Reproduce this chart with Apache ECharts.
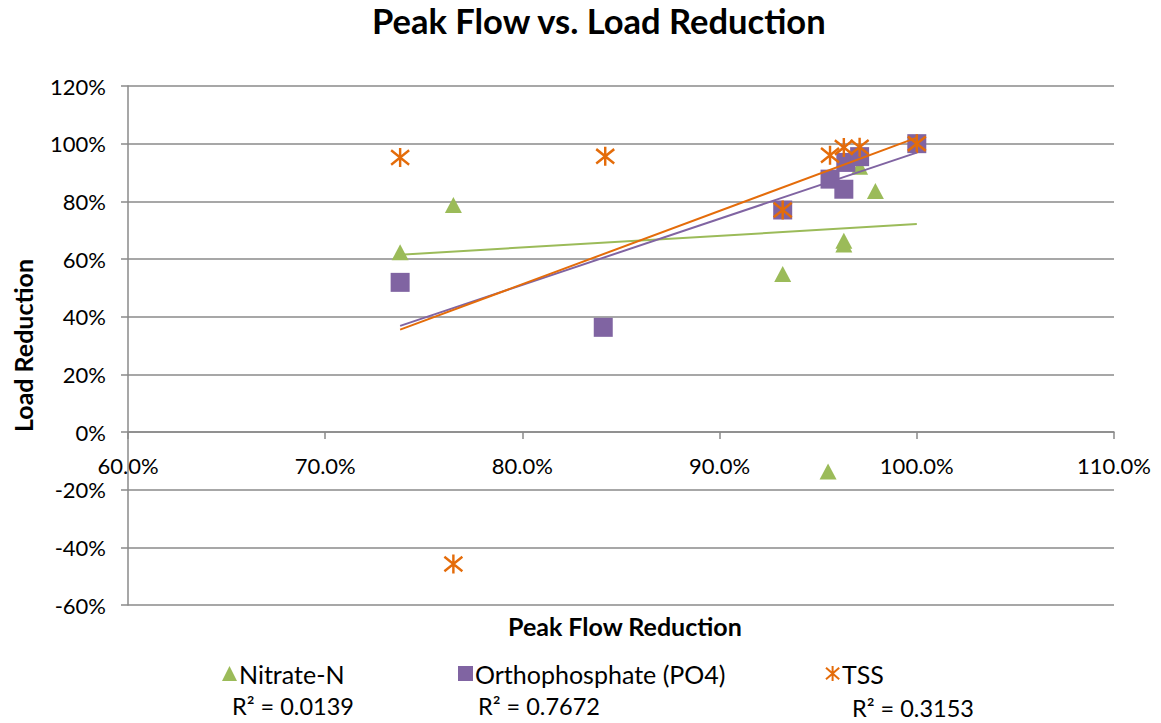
<!DOCTYPE html>
<html><head><meta charset="utf-8">
<script src="https://cdn.jsdelivr.net/npm/echarts@6/dist/echarts.min.js"></script>
<style>html,body{margin:0;padding:0;background:#fff}#c{width:1161px;height:723px}</style>
</head><body><div id="c"></div>
<script>
// Peak flow reduction (%) and load reduction (%) per series
const nitrateX = [73.8, 76.5, 93.2, 95.5, 96.3, 96.3, 97.1, 97.9, 100.0];
const nitrateY = [62.3, 78.7, 54.8, -13.7, 66.3, 65.0, 92.0, 83.6, 100.0];
const phosX = [73.8, 84.1, 93.2, 95.6, 96.3, 96.4, 97.1, 100.0];
const phosY = [51.9, 36.3, 77.0, 87.7, 84.2, 93.5, 95.5, 100.0];
const tssX = [73.8, 76.5, 84.2, 93.2, 95.6, 96.3, 97.1, 100.0];
const tssY = [95.2, -45.8, 95.6, 77.0, 96.0, 98.7, 98.8, 100.0];
// Linear trendline endpoints
const trendX = [73.8, 100.0];
const nitrateTrend = [61.5, 72.1];
const phosTrend = [36.8, 96.9];
const tssTrend = [35.5, 102.1];
const seriesNames = ['Nitrate-N', 'Orthophosphate (PO4)', 'TSS'];
const r2Labels = ['R² = 0.0139', 'R² = 0.7672', 'R² = 0.3153'];
const xTicks = [60, 110, 10];
const yTicks = [-60, 120, 20];

const FONT = 'Lato';
const GREEN = '#9BBB59', PURPLE = '#8064A2', ORANGE = '#E46C0A', GRID = '#8a8a8a';
const asterisk = 'path://M5,0L5,10M0.6,1.2L9.4,8.8M9.4,1.2L0.6,8.8';
const zip = (xs, ys) => xs.map((x, i) => [x, ys[i]]);

const GRID_TOP = 86, GRID_BOTTOM = 118, H = 723;
const plotH = H - GRID_TOP - GRID_BOTTOM;
// shift the x axis up so it crosses the y axis at 0
const zeroOffset = -plotH * (0 - yTicks[0]) / (yTicks[1] - yTicks[0]);

const chart = echarts.init(document.getElementById('c'), null, {renderer: 'svg'});
const legendBase = {
  orient: 'horizontal', top: 656, itemWidth: 15, itemHeight: 15, itemGap: 10,
  textStyle: {fontFamily: FONT, fontSize: 25, color: '#000', padding: [0, 0, 0, -3]}
};
chart.setOption({
  animation: false,
  backgroundColor: '#fff',
  textStyle: {fontFamily: FONT},
  grid: {left: 128, right: 47, top: GRID_TOP, bottom: GRID_BOTTOM, containLabel: false},
  legend: [
    Object.assign({}, legendBase, {left: 217, data: [seriesNames[0]]}),
    Object.assign({}, legendBase, {left: 453, data: [seriesNames[1]]}),
    Object.assign({}, legendBase, {left: 820, data: [seriesNames[2]]})
  ],
  graphic: [
    {type: 'text', left: 372, top: 3, style: {text: 'Peak Flow vs. Load Reduction', font: 'bold 34.5px Lato', fill: '#000'}},
    {type: 'text', left: 508, top: 613, style: {text: 'Peak Flow Reduction', font: 'bold 25px Lato', fill: '#000'}},
    {type: 'text', left: 232, top: 694, style: {text: r2Labels[0], font: '23.5px Lato', fill: '#000'}},
    {type: 'text', left: 478, top: 694, style: {text: r2Labels[1], font: '23.5px Lato', fill: '#000'}},
    {type: 'text', left: 852, top: 696, style: {text: r2Labels[2], font: '23.5px Lato', fill: '#000'}}
  ],
  xAxis: {
    type: 'value', min: xTicks[0], max: xTicks[1], interval: xTicks[2],
    position: 'bottom', offset: zeroOffset,
    axisLine: {show: true, onZero: false, lineStyle: {color: GRID, width: 1.5}},
    axisTick: {show: true, length: 7, lineStyle: {color: GRID, width: 1.5}},
    axisLabel: {formatter: v => v.toFixed(1) + '%', margin: 22, fontSize: 22, color: '#000', fontFamily: FONT},
    splitLine: {show: false}
  },
  yAxis: {
    type: 'value', min: yTicks[0], max: yTicks[1], interval: yTicks[2],
    name: 'Load Reduction', nameLocation: 'middle', nameGap: 93,
    nameTextStyle: {fontFamily: FONT, fontSize: 25, fontWeight: 'bold', color: '#000'},
    axisLine: {show: true, lineStyle: {color: GRID, width: 1.5}},
    axisTick: {show: true, length: 7, lineStyle: {color: GRID, width: 1.5}},
    axisLabel: {formatter: v => v + '%', margin: 22, fontSize: 22, color: '#000', fontFamily: FONT},
    splitLine: {show: true, lineStyle: {color: GRID, width: 1.5}}
  },
  series: [
    {name: seriesNames[0], type: 'scatter', symbol: 'triangle', symbolSize: [17, 16],
     itemStyle: {color: GREEN, opacity: 1}, data: zip(nitrateX, nitrateY), z: 2},
    {name: seriesNames[1], type: 'scatter', symbol: 'rect', symbolSize: 19,
     itemStyle: {color: PURPLE, opacity: 1}, data: zip(phosX, phosY), z: 2},
    {name: seriesNames[2], type: 'scatter', symbol: asterisk, symbolSize: [18, 19],
     itemStyle: {color: 'rgba(0,0,0,0)', borderColor: ORANGE, borderWidth: 2.5, opacity: 1}, data: zip(tssX, tssY), z: 2},
    {name: 'Nitrate trend', type: 'line', data: zip(trendX, nitrateTrend), showSymbol: false, symbol: 'none',
     lineStyle: {color: GREEN, width: 2}, itemStyle: {color: GREEN}, silent: true, z: 3},
    {name: 'PO4 trend', type: 'line', data: zip(trendX, phosTrend), showSymbol: false, symbol: 'none',
     lineStyle: {color: PURPLE, width: 2}, itemStyle: {color: PURPLE}, silent: true, z: 3},
    {name: 'TSS trend', type: 'line', data: zip(trendX, tssTrend), showSymbol: false, symbol: 'none',
     lineStyle: {color: ORANGE, width: 2}, itemStyle: {color: ORANGE}, silent: true, z: 3}
  ]
});
</script></body></html>
